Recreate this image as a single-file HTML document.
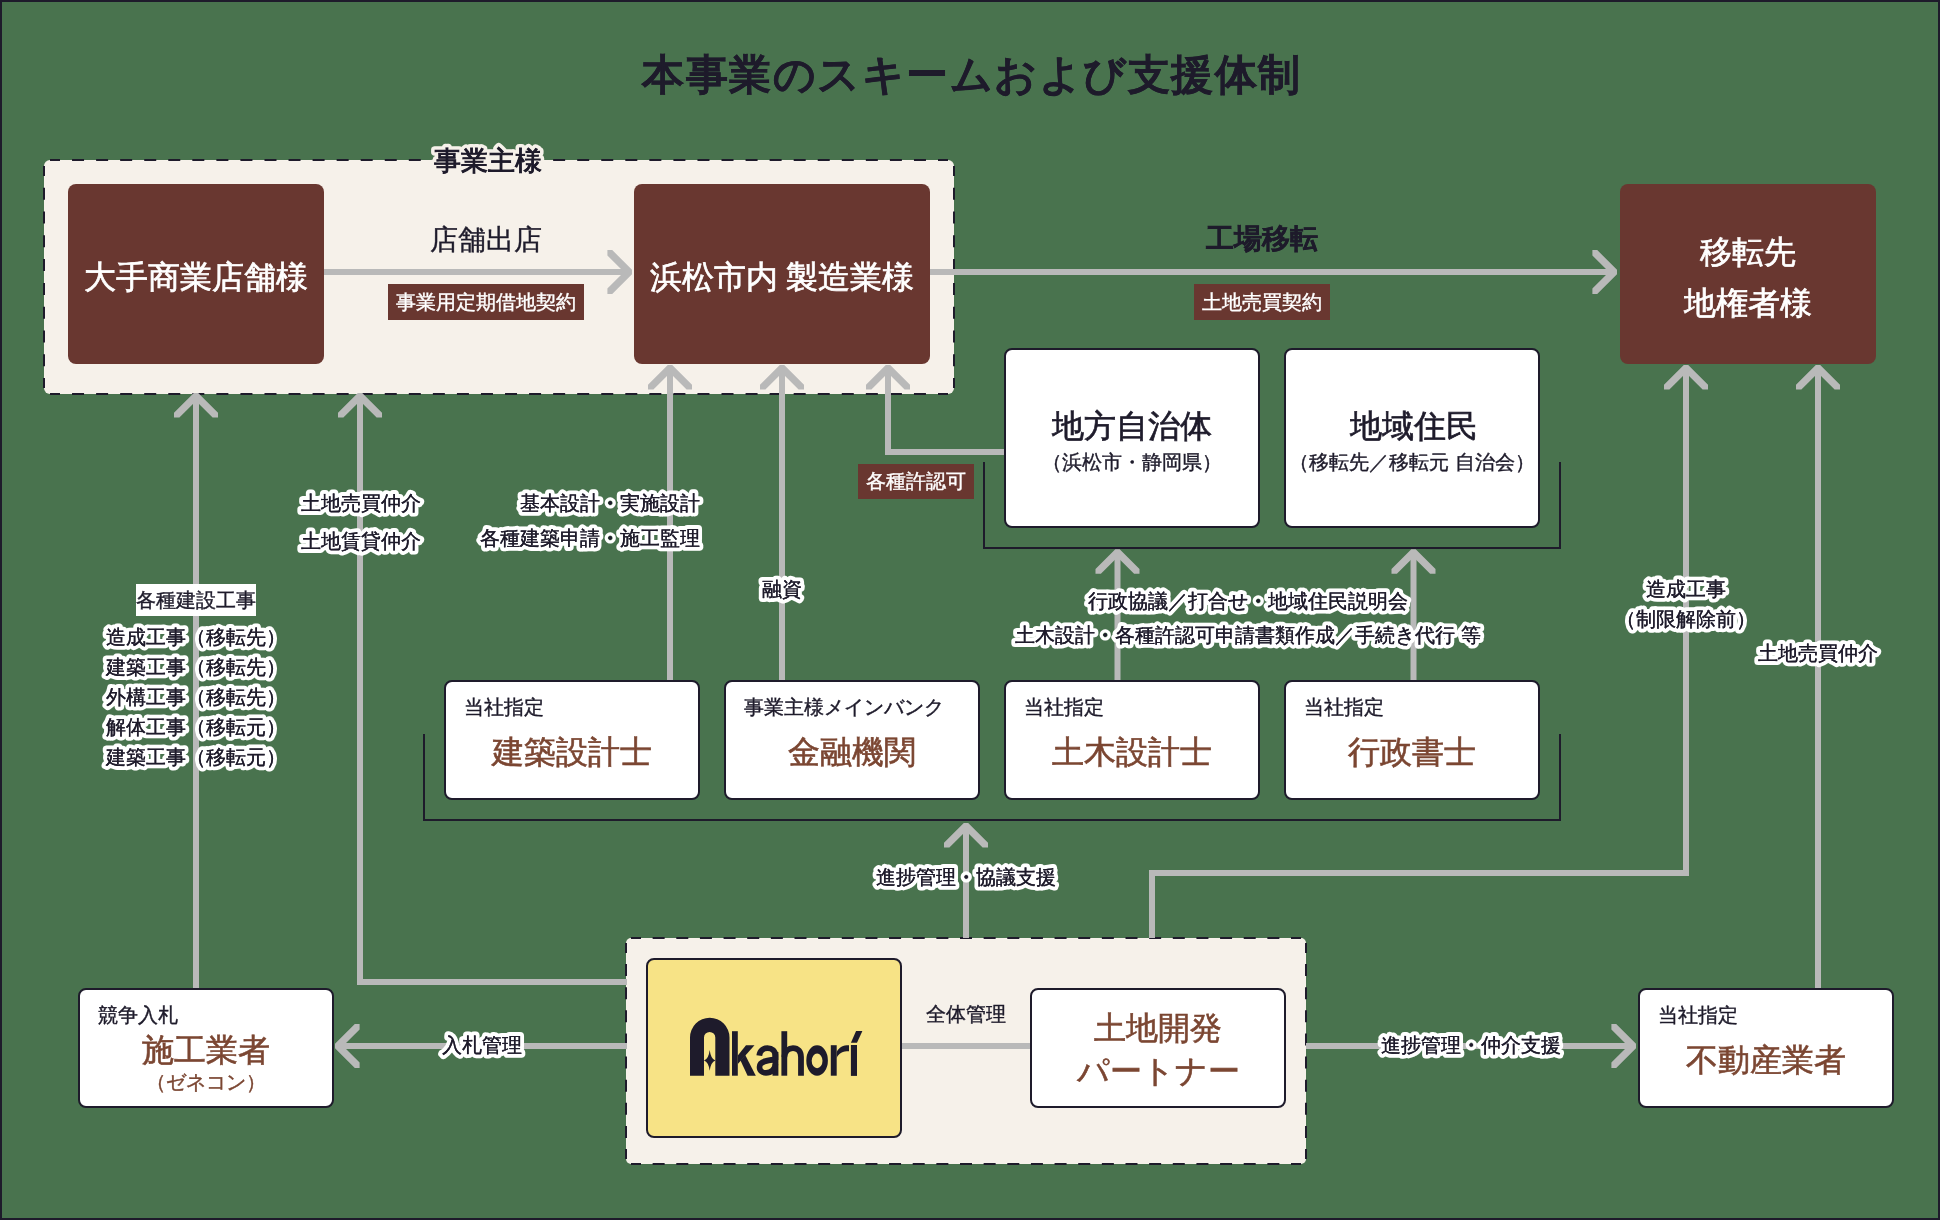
<!DOCTYPE html>
<html><head><meta charset="utf-8"><style>
html,body{margin:0;padding:0}
body{width:1940px;height:1220px;position:relative;overflow:hidden;background:#49734e;font-family:"Liberation Sans",sans-serif;color:#1e1b2b}
#frame{position:absolute;left:0;top:0;width:1936px;height:1216px;border:2px solid #1e1b2b}
svg{position:absolute;left:0;top:0}
.bb,.wb,.yb{position:absolute;box-sizing:border-box;border-radius:8px}
.bb{background:#693730}
.wb{background:#fff;border:2px solid #1e1b2b}
.yb{background:#f7e386;border:2px solid #1e1b2b}
.bt,.wt,.ws,.sub,.mt,.ms{position:absolute;left:0;right:0;text-align:center;white-space:nowrap;line-height:1}
.bt{color:#fff;font-size:32px;-webkit-text-stroke:0.7px #fff}
.wt{font-size:32px;color:#1e1b2b;-webkit-text-stroke:0.7px #1e1b2b}
.ws{font-size:20px;color:#1e1b2b;-webkit-text-stroke:0.4px #1e1b2b}
.sub{left:18px;top:15px;text-align:left;font-size:20px;-webkit-text-stroke:0.4px #1e1b2b}
.mt{font-size:32px;color:#7b4632;-webkit-text-stroke:0.6px #7b4632}
.ms{font-size:20px;color:#7b4632;-webkit-text-stroke:0.4px #7b4632}
.title{position:absolute;left:642px;top:54px;font-size:42px;letter-spacing:1.5px;font-weight:700;line-height:1;white-space:nowrap;-webkit-text-stroke:0.3px #1e1b2b}
.lab{position:absolute;line-height:1;white-space:nowrap;-webkit-text-stroke:0.4px currentColor}
.tag{position:absolute;background:#693730;color:#fff;font-size:20px;line-height:36px;text-align:center;-webkit-text-stroke:0.4px currentColor}
.halo text{font-size:20px;fill:#1e1b2b;stroke:#fff;stroke-width:8px;stroke-linejoin:round;paint-order:stroke fill;font-family:"Liberation Sans",sans-serif}
.halo text.f{stroke:#1e1b2b;stroke-width:0.25px}
#wrap{position:absolute;left:0;top:0;width:1940px;height:1220px;will-change:transform}
</style></head><body><div id="wrap">
<div id="frame"></div>
<div class="title">本事業のスキームおよび支援体制</div>
<svg width="1940" height="1220" viewBox="0 0 1940 1220">
<rect x="44" y="160" width="910" height="234" rx="6" fill="#f6f1ea"/><path d="M50.00,160H60.00M72.05,160H84.05M96.11,160H108.11M120.16,160H132.16M144.22,160H156.22M168.27,160H180.27M192.32,160H204.32M216.38,160H228.38M240.43,160H252.43M264.49,160H276.49M288.54,160H300.54M312.59,160H324.59M336.65,160H348.65M360.70,160H372.70M384.76,160H396.76M408.81,160H420.81M432.86,160H444.86M456.92,160H468.92M480.97,160H492.97M505.03,160H517.03M529.08,160H541.08M553.14,160H565.14M577.19,160H589.19M601.24,160H613.24M625.30,160H637.30M649.35,160H661.35M673.41,160H685.41M697.46,160H709.46M721.51,160H733.51M745.57,160H757.57M769.62,160H781.62M793.68,160H805.68M817.73,160H829.73M841.78,160H853.78M865.84,160H877.84M889.89,160H901.89M913.95,160H925.95M938.00,160H948.00M50.00,394H60.00M72.05,394H84.05M96.11,394H108.11M120.16,394H132.16M144.22,394H156.22M168.27,394H180.27M192.32,394H204.32M216.38,394H228.38M240.43,394H252.43M264.49,394H276.49M288.54,394H300.54M312.59,394H324.59M336.65,394H348.65M360.70,394H372.70M384.76,394H396.76M408.81,394H420.81M432.86,394H444.86M456.92,394H468.92M480.97,394H492.97M505.03,394H517.03M529.08,394H541.08M553.14,394H565.14M577.19,394H589.19M601.24,394H613.24M625.30,394H637.30M649.35,394H661.35M673.41,394H685.41M697.46,394H709.46M721.51,394H733.51M745.57,394H757.57M769.62,394H781.62M793.68,394H805.68M817.73,394H829.73M841.78,394H853.78M865.84,394H877.84M889.89,394H901.89M913.95,394H925.95M938.00,394H948.00M44,166.00V176.00M44,187.78V199.78M44,211.56V223.56M44,235.33V247.33M44,259.11V271.11M44,282.89V294.89M44,306.67V318.67M44,330.44V342.44M44,354.22V366.22M44,378.00V388.00M954,166.00V176.00M954,187.78V199.78M954,211.56V223.56M954,235.33V247.33M954,259.11V271.11M954,282.89V294.89M954,306.67V318.67M954,330.44V342.44M954,354.22V366.22M954,378.00V388.00" stroke="#1e1b2b" stroke-width="2" fill="none"/>
<rect x="626" y="938" width="680" height="226" rx="5" fill="#f6f1ea"/><path d="M631.00,938H641.00M652.64,938H664.64M676.29,938H688.29M699.93,938H711.93M723.57,938H735.57M747.21,938H759.21M770.86,938H782.86M794.50,938H806.50M818.14,938H830.14M841.79,938H853.79M865.43,938H877.43M889.07,938H901.07M912.71,938H924.71M936.36,938H948.36M960.00,938H972.00M983.64,938H995.64M1007.29,938H1019.29M1030.93,938H1042.93M1054.57,938H1066.57M1078.21,938H1090.21M1101.86,938H1113.86M1125.50,938H1137.50M1149.14,938H1161.14M1172.79,938H1184.79M1196.43,938H1208.43M1220.07,938H1232.07M1243.71,938H1255.71M1267.36,938H1279.36M1291.00,938H1301.00M631.00,1164H641.00M652.64,1164H664.64M676.29,1164H688.29M699.93,1164H711.93M723.57,1164H735.57M747.21,1164H759.21M770.86,1164H782.86M794.50,1164H806.50M818.14,1164H830.14M841.79,1164H853.79M865.43,1164H877.43M889.07,1164H901.07M912.71,1164H924.71M936.36,1164H948.36M960.00,1164H972.00M983.64,1164H995.64M1007.29,1164H1019.29M1030.93,1164H1042.93M1054.57,1164H1066.57M1078.21,1164H1090.21M1101.86,1164H1113.86M1125.50,1164H1137.50M1149.14,1164H1161.14M1172.79,1164H1184.79M1196.43,1164H1208.43M1220.07,1164H1232.07M1243.71,1164H1255.71M1267.36,1164H1279.36M1291.00,1164H1301.00M626,943.00V953.00M626,964.11V976.11M626,987.22V999.22M626,1010.33V1022.33M626,1033.44V1045.44M626,1056.56V1068.56M626,1079.67V1091.67M626,1102.78V1114.78M626,1125.89V1137.89M626,1149.00V1159.00M1306,943.00V953.00M1306,964.11V976.11M1306,987.22V999.22M1306,1010.33V1022.33M1306,1033.44V1045.44M1306,1056.56V1068.56M1306,1079.67V1091.67M1306,1102.78V1114.78M1306,1125.89V1137.89M1306,1149.00V1159.00" stroke="#1e1b2b" stroke-width="2" fill="none"/>
<polyline points="984,462 984,548 1560,548 1560,462" fill="none" stroke="#1e1b2b" stroke-width="2"/>
<polyline points="424,734 424,820 1560,820 1560,734" fill="none" stroke="#1e1b2b" stroke-width="2"/>
<polyline points="324,272 630,272" fill="none" stroke="#b9b9b9" stroke-width="6" stroke-linejoin="miter"/>
<polyline points="930,272 1614,272" fill="none" stroke="#b9b9b9" stroke-width="6" stroke-linejoin="miter"/>
<polyline points="196,989 196,396" fill="none" stroke="#b9b9b9" stroke-width="6" stroke-linejoin="miter"/>
<polyline points="627,982 360,982 360,396" fill="none" stroke="#b9b9b9" stroke-width="6" stroke-linejoin="miter"/>
<polyline points="670,681 670,368" fill="none" stroke="#b9b9b9" stroke-width="6" stroke-linejoin="miter"/>
<polyline points="782,681 782,368" fill="none" stroke="#b9b9b9" stroke-width="6" stroke-linejoin="miter"/>
<polyline points="1005,452 888,452 888,368" fill="none" stroke="#b9b9b9" stroke-width="6" stroke-linejoin="miter"/>
<polyline points="1117.5,681 1117.5,552" fill="none" stroke="#b9b9b9" stroke-width="6" stroke-linejoin="miter"/>
<polyline points="1413.5,681 1413.5,552" fill="none" stroke="#b9b9b9" stroke-width="6" stroke-linejoin="miter"/>
<polyline points="966,938 966,826" fill="none" stroke="#b9b9b9" stroke-width="6" stroke-linejoin="miter"/>
<polyline points="1152,938 1152,873 1686,873 1686,368" fill="none" stroke="#b9b9b9" stroke-width="6" stroke-linejoin="miter"/>
<polyline points="1818,989 1818,368" fill="none" stroke="#b9b9b9" stroke-width="6" stroke-linejoin="miter"/>
<polyline points="627,1046 338,1046" fill="none" stroke="#b9b9b9" stroke-width="6" stroke-linejoin="miter"/>
<polyline points="901,1046 1031,1046" fill="none" stroke="#b9b9b9" stroke-width="6" stroke-linejoin="miter"/>
<polyline points="1306,1046 1633,1046" fill="none" stroke="#b9b9b9" stroke-width="6" stroke-linejoin="miter"/>
<polygon points="632,269.8 612.2,250 607.4,250 607.4,255.4 624,272 607.4,288.6 607.4,294 612.2,294 632,274.2" fill="#b9b9b9"/>
<polygon points="1617,269.8 1597.2,250 1592.4,250 1592.4,255.4 1609,272 1592.4,288.6 1592.4,294 1597.2,294 1617,274.2" fill="#b9b9b9"/>
<polygon points="1636,1043.8 1616.2,1024 1611.4,1024 1611.4,1029.4 1628,1046 1611.4,1062.6 1611.4,1068 1616.2,1068 1636,1048.2" fill="#b9b9b9"/>
<polygon points="335,1043.8 354.8,1024 359.6,1024 359.6,1029.4 343,1046 359.6,1062.6 359.6,1068 354.8,1068 335,1048.2" fill="#b9b9b9"/>
<polygon points="193.8,393 174,412.8 174,417.6 179.4,417.6 196,401 212.6,417.6 218,417.6 218,412.8 198.2,393" fill="#b9b9b9"/>
<polygon points="357.8,393 338,412.8 338,417.6 343.4,417.6 360,401 376.6,417.6 382,417.6 382,412.8 362.2,393" fill="#b9b9b9"/>
<polygon points="667.8,365 648,384.8 648,389.6 653.4,389.6 670,373 686.6,389.6 692,389.6 692,384.8 672.2,365" fill="#b9b9b9"/>
<polygon points="779.8,365 760,384.8 760,389.6 765.4,389.6 782,373 798.6,389.6 804,389.6 804,384.8 784.2,365" fill="#b9b9b9"/>
<polygon points="885.8,365 866,384.8 866,389.6 871.4,389.6 888,373 904.6,389.6 910,389.6 910,384.8 890.2,365" fill="#b9b9b9"/>
<polygon points="1115.3,549.2 1095.5,569 1095.5,573.8 1100.9,573.8 1117.5,557.2 1134.1,573.8 1139.5,573.8 1139.5,569 1119.7,549.2" fill="#b9b9b9"/>
<polygon points="1411.3,549.2 1391.5,569 1391.5,573.8 1396.9,573.8 1413.5,557.2 1430.1,573.8 1435.5,573.8 1435.5,569 1415.7,549.2" fill="#b9b9b9"/>
<polygon points="963.8,823 944,842.8 944,847.6 949.4,847.6 966,831 982.6,847.6 988,847.6 988,842.8 968.2,823" fill="#b9b9b9"/>
<polygon points="1683.8,365 1664,384.8 1664,389.6 1669.4,389.6 1686,373 1702.6,389.6 1708,389.6 1708,384.8 1688.2,365" fill="#b9b9b9"/>
<polygon points="1815.8,365 1796,384.8 1796,389.6 1801.4,389.6 1818,373 1834.6,389.6 1840,389.6 1840,384.8 1820.2,365" fill="#b9b9b9"/>
</svg>
<svg width="1940" height="400" style="font-family:'Liberation Sans',sans-serif"><text x="488" y="170" text-anchor="middle" font-size="27" fill="#1e1b2b" stroke="#f6f1ea" stroke-width="8" stroke-linejoin="round" paint-order="stroke fill">事業主様</text><text x="488" y="170" text-anchor="middle" font-size="27" fill="#1e1b2b" stroke="#1e1b2b" stroke-width="0.9">事業主様</text></svg>
<div class="bb" style="left:68px;top:184px;width:256px;height:180px"><div class="bt" style="top:77px">大手商業店舗様</div></div>
<div class="bb" style="left:634px;top:184px;width:296px;height:180px"><div class="bt" style="top:77px">浜松市内 製造業様</div></div>
<div class="bb" style="left:1620px;top:184px;width:256px;height:180px"><div class="bt" style="top:52px">移転先</div><div class="bt" style="top:103px">地権者様</div></div>
<div class="wb" style="left:1004px;top:348px;width:256px;height:180px"><div class="wt" style="top:60px">地方自治体</div><div class="ws" style="top:102px">（浜松市・静岡県）</div></div>
<div class="wb" style="left:1284px;top:348px;width:256px;height:180px"><div class="wt" style="top:60px;left:3px">地域住民</div><div class="ws" style="top:102px">（移転先／移転元 自治会）</div></div>
<div class="wb" style="left:444px;top:680px;width:256px;height:120px"><div class="sub">当社指定</div><div class="mt" style="top:54px">建築設計士</div></div>
<div class="wb" style="left:724px;top:680px;width:256px;height:120px"><div class="sub">事業主様メインバンク</div><div class="mt" style="top:54px">金融機関</div></div>
<div class="wb" style="left:1004px;top:680px;width:256px;height:120px"><div class="sub">当社指定</div><div class="mt" style="top:54px">土木設計士</div></div>
<div class="wb" style="left:1284px;top:680px;width:256px;height:120px"><div class="sub">当社指定</div><div class="mt" style="top:54px">行政書士</div></div>
<div class="wb" style="left:78px;top:988px;width:256px;height:120px"><div class="sub">競争入札</div><div class="mt" style="top:44px">施工業者</div><div class="ms" style="top:82px">（ゼネコン）</div></div>
<div class="wb" style="left:1030px;top:988px;width:256px;height:120px"><div class="mt" style="top:22px">土地開発</div><div class="mt" style="top:65px">パートナー</div></div>
<div class="wb" style="left:1638px;top:988px;width:256px;height:120px"><div class="sub">当社指定</div><div class="mt" style="top:54px">不動産業者</div></div>
<div class="yb" style="left:646px;top:958px;width:256px;height:180px"></div>
<svg width="1940" height="1220" style="position:absolute;left:0;top:0"><path fill="#1e1b2b" fill-rule="evenodd" d="M690,1075.7 L690,1037.5 A19.75,19.75 0 0 1 729.5,1037.5 L729.5,1075.7 L715.3,1075.7 L715.3,1037.6 A5.65,5.65 0 0 0 704,1037.6 L704,1075.7 Z"/><path fill="#1e1b2b" d="M709.7,1049.9 Q710.8,1058.9 715.4,1060.5 Q710.8,1062.1 709.7,1070.8 Q708.6,1062.1 704,1060.5 Q708.6,1058.9 709.7,1049.9 Z"/><path fill="#1e1b2b" d="M732,1031.2 H737.8 V1075.7 H732 Z"/><path fill="#1e1b2b" d="M737.8,1055.5 L746,1045.2 H754.5 L737.8,1064 Z"/><path fill="#1e1b2b" d="M740.5,1060.5 L745.2,1055 L755.8,1075.7 H747.6 Z"/><path fill="#1e1b2b" d="M772.5,1052 H778.4 V1075.7 H772.5 Z"/><path fill="none" stroke="#1e1b2b" stroke-width="5.8" d="M759.3,1055.6 C760,1050 764,1048.1 767.5,1048.1 C772,1048.1 775.4,1051 775.4,1056 V1060"/><path fill="none" stroke="#1e1b2b" stroke-width="5.6" d="M775.4,1059.5 C770,1060 759.5,1060.5 759.5,1067 C759.5,1071 762.5,1072.9 766,1072.9 C771,1072.9 775.4,1069 775.4,1064"/><path fill="#1e1b2b" d="M781.4,1031.2 H787.2 V1075.7 H781.4 Z"/><path fill="none" stroke="#1e1b2b" stroke-width="5.8" d="M784.3,1057 C785,1051 789,1048.1 793,1048.1 C798,1048.1 801,1051.5 801,1057 V1075.7"/><path fill="#1e1b2b" fill-rule="evenodd" d="M806.3,1060.5 A10.8,15.25 0 1 0 827.9,1060.5 A10.8,15.25 0 1 0 806.3,1060.5 Z M811.7,1060.85 A5.4,7.35 0 1 0 822.5,1060.85 A5.4,7.35 0 1 0 811.7,1060.85 Z"/><path fill="#1e1b2b" d="M830.8,1045.2 H836.7 V1075.7 H830.8 Z"/><path fill="#1e1b2b" d="M836.7,1052 C839,1047 843,1045.2 849,1045.2 V1051.2 C843,1051.2 838.5,1053 836.7,1058 Z"/><path fill="#1e1b2b" d="M850.9,1045 H857 V1075.9 H850.9 Z"/><path fill="#1e1b2b" d="M850.9,1042.8 L856.1,1031.1 H862.4 L857,1042.8 Z"/></svg>
<div class="lab" style="left:430px;top:226px;font-size:28px">店舗出店</div>
<div class="tag" style="left:388px;top:284px;width:196px;height:36px">事業用定期借地契約</div>
<div class="lab" style="left:1206px;top:225px;font-size:28px;font-weight:700">工場移転</div>
<div class="tag" style="left:1194px;top:284px;width:136px;height:36px">土地売買契約</div>
<div class="tag" style="left:858px;top:464px;width:116px;height:35px;line-height:35px">各種許認可</div>
<div class="tag" style="left:136px;top:584px;width:120px;height:32px;line-height:32px;background:#fff;color:#1e1b2b">各種建設工事</div>
<div class="lab" style="left:926px;top:1004px;font-size:20px">全体管理</div>
<svg class="halo" width="1940" height="1220" viewBox="0 0 1940 1220">
<text x="361" y="510" text-anchor="middle">土地売買仲介</text>
<text x="361" y="548" text-anchor="middle">土地賃貸仲介</text>
<text x="700" y="510" text-anchor="end">基本設計・実施設計</text>
<text x="700" y="545" text-anchor="end">各種建築申請・施工監理</text>
<text x="782" y="596" text-anchor="middle">融資</text>
<text x="1248" y="608" text-anchor="middle">行政協議／打合せ・地域住民説明会</text>
<text x="1248" y="642" text-anchor="middle">土木設計・各種許認可申請書類作成／手続き代行 等</text>
<text x="1686" y="596" text-anchor="middle">造成工事</text>
<text x="1686" y="626" text-anchor="middle">（制限解除前）</text>
<text x="1818" y="660" text-anchor="middle">土地売買仲介</text>
<text x="966" y="884" text-anchor="middle">進捗管理・協議支援</text>
<text x="482" y="1052" text-anchor="middle">入札管理</text>
<text x="1471" y="1052" text-anchor="middle">進捗管理・仲介支援</text>
<text x="106" y="644" text-anchor="start">造成工事（移転先）</text>
<text x="106" y="674" text-anchor="start">建築工事（移転先）</text>
<text x="106" y="704" text-anchor="start">外構工事（移転先）</text>
<text x="106" y="734" text-anchor="start">解体工事（移転元）</text>
<text x="106" y="764" text-anchor="start">建築工事（移転元）</text>
<text class="f" x="361" y="510" text-anchor="middle">土地売買仲介</text>
<text class="f" x="361" y="548" text-anchor="middle">土地賃貸仲介</text>
<text class="f" x="700" y="510" text-anchor="end">基本設計・実施設計</text>
<text class="f" x="700" y="545" text-anchor="end">各種建築申請・施工監理</text>
<text class="f" x="782" y="596" text-anchor="middle">融資</text>
<text class="f" x="1248" y="608" text-anchor="middle">行政協議／打合せ・地域住民説明会</text>
<text class="f" x="1248" y="642" text-anchor="middle">土木設計・各種許認可申請書類作成／手続き代行 等</text>
<text class="f" x="1686" y="596" text-anchor="middle">造成工事</text>
<text class="f" x="1686" y="626" text-anchor="middle">（制限解除前）</text>
<text class="f" x="1818" y="660" text-anchor="middle">土地売買仲介</text>
<text class="f" x="966" y="884" text-anchor="middle">進捗管理・協議支援</text>
<text class="f" x="482" y="1052" text-anchor="middle">入札管理</text>
<text class="f" x="1471" y="1052" text-anchor="middle">進捗管理・仲介支援</text>
<text class="f" x="106" y="644" text-anchor="start">造成工事（移転先）</text>
<text class="f" x="106" y="674" text-anchor="start">建築工事（移転先）</text>
<text class="f" x="106" y="704" text-anchor="start">外構工事（移転先）</text>
<text class="f" x="106" y="734" text-anchor="start">解体工事（移転元）</text>
<text class="f" x="106" y="764" text-anchor="start">建築工事（移転元）</text>
</svg>
</div></body></html>
